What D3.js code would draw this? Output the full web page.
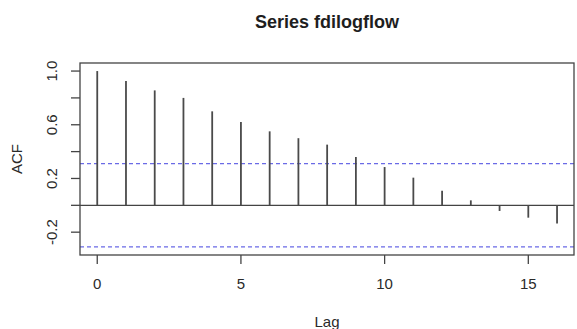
<!DOCTYPE html>
<html>
<head>
<meta charset="utf-8">
<script src="https://cdn.jsdelivr.net/npm/d3@7"></script>
<style>
  html, body { margin: 0; padding: 0; background: #fff; }
  svg text { font-family: "Liberation Sans", Arial, sans-serif; fill: #2a2a2a; }
</style>
</head>
<body>
<svg id="chart" width="577" height="329"></svg>
<script>
// Autocorrelation of fdilogflow by lag
const lags = [0, 1, 2, 3, 4, 5, 6, 7, 8, 9, 10, 11, 12, 13, 14, 15, 16];
const acfValues = [1.0, 0.926, 0.856, 0.80, 0.70, 0.62, 0.551, 0.50, 0.452, 0.36, 0.285, 0.206, 0.109, 0.037, -0.042, -0.092, -0.136];
const confBound = 0.31;
const xTicks = [0, 5, 10, 15];
const yTicks = [-0.2, 0, 0.2, 0.4, 0.6, 0.8, 1.0];
const yLabelTicks = [-0.2, 0.2, 0.6, 1.0];

const svg = d3.select("#chart");
const box = { left: 80, right: 574, top: 63, bottom: 255 };

const x = d3.scaleLinear().domain([-0.6, 16.59]).range([box.left, box.right]);
const y = d3.scaleLinear().domain([-0.37, 1.06]).range([box.bottom, box.top]);

const ink = "#444";

// Title
svg.append("text")
  .attr("x", (box.left + box.right) / 2).attr("y", 28)
  .attr("text-anchor", "middle")
  .style("font-size", "18px").style("font-weight", "bold").style("fill", "#1e1e1e")
  .text("Series  fdilogflow");

// Confidence bounds
svg.selectAll("line.bound").data([confBound, -confBound]).enter().append("line")
  .attr("class", "bound")
  .attr("x1", box.left).attr("x2", box.right)
  .attr("y1", d => y(d)).attr("y2", d => y(d))
  .attr("stroke", "#6a6ae6").attr("stroke-width", 1.2)
  .attr("stroke-dasharray", "4,3");

// Zero line
svg.append("line")
  .attr("x1", box.left).attr("x2", box.right)
  .attr("y1", y(0)).attr("y2", y(0))
  .attr("stroke", ink).attr("stroke-width", 1.3);

// ACF spikes
svg.selectAll("line.spike").data(lags).enter().append("line")
  .attr("class", "spike")
  .attr("x1", d => x(d)).attr("x2", d => x(d))
  .attr("y1", y(0)).attr("y2", (d, i) => y(acfValues[i]))
  .attr("stroke", "#4a4a4a").attr("stroke-width", 1.8);

// Plot box
svg.append("rect")
  .attr("x", box.left).attr("y", box.top)
  .attr("width", box.right - box.left).attr("height", box.bottom - box.top)
  .attr("fill", "none").attr("stroke", ink).attr("stroke-width", 1.3);

// X axis
const xAxis = svg.append("g");
xAxis.selectAll("line").data(xTicks).enter().append("line")
  .attr("x1", d => x(d)).attr("x2", d => x(d))
  .attr("y1", box.bottom).attr("y2", box.bottom + 9)
  .attr("stroke", ink).attr("stroke-width", 1.3);
xAxis.selectAll("text").data(xTicks).enter().append("text")
  .attr("x", d => x(d)).attr("y", 288.5)
  .attr("text-anchor", "middle")
  .style("font-size", "15px")
  .text(d => d);

svg.append("text")
  .attr("x", (box.left + box.right) / 2).attr("y", 327)
  .attr("text-anchor", "middle")
  .style("font-size", "15px")
  .text("Lag");

// Y axis
const yAxis = svg.append("g");
yAxis.selectAll("line").data(yTicks).enter().append("line")
  .attr("x1", box.left - 9).attr("x2", box.left)
  .attr("y1", d => y(d)).attr("y2", d => y(d))
  .attr("stroke", ink).attr("stroke-width", 1.3);
yAxis.selectAll("text").data(yLabelTicks).enter().append("text")
  .attr("transform", d => `translate(57,${y(d)}) rotate(-90)`)
  .attr("text-anchor", "middle")
  .style("font-size", "15px")
  .text(d => d.toFixed(1));

svg.append("text")
  .attr("transform", `translate(22,${(box.top + box.bottom) / 2}) rotate(-90)`)
  .attr("text-anchor", "middle")
  .style("font-size", "15px")
  .text("ACF");
</script>
</body>
</html>
